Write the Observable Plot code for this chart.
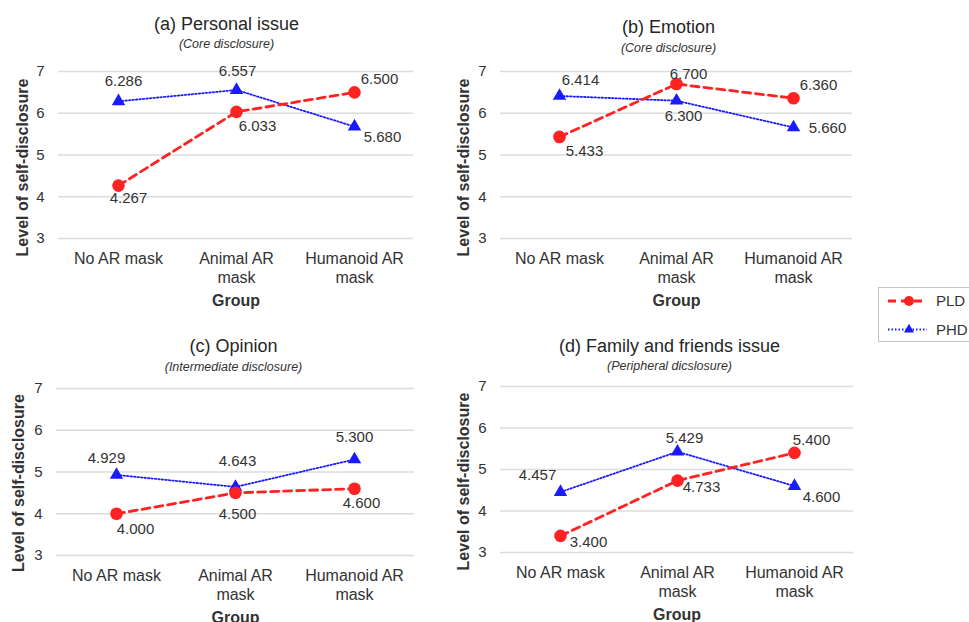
<!DOCTYPE html>
<html>
<head>
<meta charset="utf-8">
<script src="https://cdn.jsdelivr.net/npm/d3@7"></script>
<script src="https://cdn.jsdelivr.net/npm/@observablehq/plot@0.6"></script>
<style>
  html, body { margin: 0; padding: 0; background: #fff; }
  #wrap { position: relative; width: 969px; height: 622px; overflow: hidden; font-family: "Liberation Sans", Arial, sans-serif; }
  .panel { position: absolute; }
  #legend { position: absolute; left: 878px; top: 287px; width: 110px; height: 53px; border: 1px solid #c4c4c4; background: #fff; }
</style>
</head>
<body>
<div id="wrap"></div>
<script>
// ---------- data ----------
const groups = ["No AR mask", "Animal AR mask", "Humanoid AR mask"];
const groupTickLabels = ["No AR mask", "Animal AR\nmask", "Humanoid AR\nmask"];
const seriesNames = ["PLD", "PHD"];
const yTicks = [3, 4, 5, 6, 7];
const yLabel = "Level of self-disclosure";
const xLabel = "Group";

const panelTitles = ["(a) Personal issue", "(b) Emotion", "(c) Opinion", "(d) Family and friends issue"];
const panelSubtitles = ["(Core disclosure)", "(Core disclosure)", "(Intermediate disclosure)", "(Peripheral dicslosure)"];

const pldPersonal = [4.267, 6.033, 6.500];
const phdPersonal = [6.286, 6.557, 5.680];
const pldEmotion  = [5.433, 6.700, 6.360];
const phdEmotion  = [6.414, 6.300, 5.660];
const pldOpinion  = [4.000, 4.500, 4.600];
const phdOpinion  = [4.929, 4.643, 5.300];
const pldFamily   = [3.400, 4.733, 5.400];
const phdFamily   = [4.457, 5.429, 4.600];

// ---------- styling / layout (not data) ----------
const seriesStyle = {
  PLD: {color: "#ff2222", dash: "8,5", width: 2.8, symbol: "circle", r: 6.3},
  PHD: {color: "#1a1aff", dash: "1.5,2", width: 1.8, symbol: "triangle", r: 5}
};
// pixel offsets of value labels
const labelOffsets = [
  {PLD: [[10, 13], [21, 14], [25, -13]], PHD: [[5, -20], [1, -19], [28, 11]]},
  {PLD: [[25, 14], [12, -10], [25, -13]], PHD: [[21, -16], [7, 15], [34, 1]]},
  {PLD: [[19, 15], [2, 21], [7, 14]],     PHD: [[-10, -17], [2, -26], [0, -22]]},
  {PLD: [[28, 6], [24, 7], [17, -13]],    PHD: [[-23, -17], [7, -14], [27, 11]]}
];
const layouts = [
  {left: 0,   top: 0,   width: 440, height: 310, mt: 71, mb: 72, ml: 58, mr: 27, tdx: -9.5, tdy: -47, sdy: -28, ydx: -36, ydy: 12.5},
  {left: 440, top: 0,   width: 440, height: 310, mt: 71, mb: 72, ml: 60, mr: 28, tdx: -8,   tdy: -44, sdy: -24, ydx: -37, ydy: 12.5},
  {left: 0,   top: 310, width: 440, height: 312, mt: 78, mb: 67, ml: 56, mr: 26, tdx: -2,   tdy: -42, sdy: -22, ydx: -38, ydy: 11},
  {left: 440, top: 310, width: 440, height: 312, mt: 76, mb: 70, ml: 60, mr: 27, tdx: -7.5, tdy: -40, sdy: -21, ydx: -37, ydy: 12}
];
const panelValues = [
  {PLD: pldPersonal, PHD: phdPersonal},
  {PLD: pldEmotion,  PHD: phdEmotion},
  {PLD: pldOpinion,  PHD: phdOpinion},
  {PLD: pldFamily,   PHD: phdFamily}
];

const fmt = d3.format(".3f");
const textColor = "#333";

function makePanel(i) {
  const L = layouts[i];
  const vals = panelValues[i];
  const rows = {};
  for (const s of seriesNames) rows[s] = groups.map((g, k) => ({group: g, value: vals[s][k], series: s, k}));

  const marks = [
    Plot.gridY(yTicks, {stroke: "#dcdcdc", strokeOpacity: 1, strokeWidth: 1.5}),
    Plot.axisY(yTicks, {tickSize: 0, tickPadding: 14, fontSize: 15, fill: textColor, label: null}),
    Plot.axisX(groups, {tickSize: 0, tickPadding: 12, fontSize: 16, fill: textColor, label: null, lineHeight: 1.2,
      tickFormat: d => groupTickLabels[groups.indexOf(d)]}),
    Plot.text([xLabel], {frameAnchor: "bottom", lineAnchor: "middle", dy: 62, text: d => d, fontSize: 16, fontWeight: "bold", fill: textColor}),
    Plot.text([yLabel], {frameAnchor: "left", textAnchor: "middle", lineAnchor: "middle", dx: L.ydx, dy: L.ydy, rotate: -90, text: d => d, fontSize: 16, fontWeight: "bold", fill: textColor}),
    Plot.text([panelTitles[i]], {frameAnchor: "top", lineAnchor: "middle", dx: L.tdx, dy: L.tdy, text: d => d, fontSize: 18, fill: "#262626"}),
    Plot.text([panelSubtitles[i]], {frameAnchor: "top", lineAnchor: "middle", dx: L.tdx, dy: L.sdy, text: d => d, fontSize: 12.5, fontStyle: "italic", fill: textColor})
  ];
  for (const s of ["PHD", "PLD"]) {
    const st = seriesStyle[s];
    marks.push(Plot.line(rows[s], {x: "group", y: "value", stroke: st.color, strokeWidth: st.width, strokeDasharray: st.dash}));
  }
  for (const s of ["PHD", "PLD"]) {
    const st = seriesStyle[s];
    marks.push(Plot.dot(rows[s], {x: "group", y: "value", fill: st.color, stroke: "none", symbol: st.symbol, r: st.r}));
  }
  for (const s of seriesNames) {
    rows[s].forEach((row, k) => {
      const [dx, dy] = labelOffsets[i][s][k];
      marks.push(Plot.text([row], {x: "group", y: "value", text: d => fmt(d.value), dx, dy, fontSize: 15, fill: textColor}));
    });
  }

  const svg = Plot.plot({
    width: L.width,
    height: L.height,
    marginTop: L.mt,
    marginBottom: L.mb,
    marginLeft: L.ml,
    marginRight: L.mr,
    style: {fontFamily: "'Liberation Sans', Arial, sans-serif", background: "transparent", overflow: "visible"},
    x: {type: "point", domain: groups, padding: 0.5, axis: null},
    y: {domain: [3, 7], axis: null},
    marks
  });
  const div = document.createElement("div");
  div.className = "panel";
  div.style.left = L.left + "px";
  div.style.top = L.top + "px";
  div.appendChild(svg);
  return div;
}

const wrap = document.getElementById("wrap");
for (let i = 0; i < 4; i++) wrap.appendChild(makePanel(i));

// legend
const legend = document.createElement("div");
legend.id = "legend";
wrap.appendChild(legend);
const lsvg = d3.select(legend).append("svg").attr("width", 110).attr("height", 53);
seriesNames.forEach((s, k) => {
  const st = seriesStyle[s];
  const y = 13 + k * 28.5;
  lsvg.append("line").attr("x1", 9).attr("x2", 48).attr("y1", y).attr("y2", y)
    .attr("stroke", st.color).attr("stroke-width", st.width).attr("stroke-dasharray", st.dash);
  lsvg.append("path").attr("transform", `translate(30,${y})`)
    .attr("d", d3.symbol(st.symbol === "circle" ? d3.symbolCircle : d3.symbolTriangle, Math.PI * (st.r - 1.3) ** 2)())
    .attr("fill", st.color);
  lsvg.append("text").attr("x", 57).attr("y", y).attr("dy", "0.35em")
    .attr("font-size", 15).attr("fill", textColor)
    .attr("font-family", "'Liberation Sans', Arial, sans-serif").text(s);
});
</script>
</body>
</html>
